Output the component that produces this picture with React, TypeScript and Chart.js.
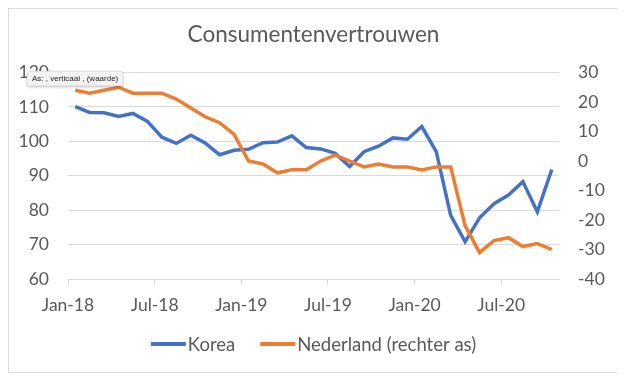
import React, { useEffect, useRef } from "react";
import { Chart, registerables } from "chart.js";

Chart.register(...registerables);

const categories = [
  "Jan-18", "Feb-18", "Mar-18", "Apr-18", "May-18", "Jun-18", "Jul-18", "Aug-18", "Sep-18", "Oct-18", "Nov-18", "Dec-18",
  "Jan-19", "Feb-19", "Mar-19", "Apr-19", "May-19", "Jun-19", "Jul-19", "Aug-19", "Sep-19", "Oct-19", "Nov-19", "Dec-19",
  "Jan-20", "Feb-20", "Mar-20", "Apr-20", "May-20", "Jun-20", "Jul-20", "Aug-20", "Sep-20", "Oct-20",
];

const korea = [
  110.1, 108.4, 108.3, 107.2, 108.1, 105.8, 101.2, 99.4, 101.8, 99.5, 96.1, 97.4,
  97.7, 99.6, 99.8, 101.6, 98.2, 97.8, 96.5, 92.7, 97.0, 98.6, 101.0, 100.6,
  104.3, 97.0, 78.5, 70.8, 77.8, 81.9, 84.4, 88.3, 79.5, 91.8,
];

const nederland = [
  24, 23, 24, 25, 23, 23, 23, 21, 18, 15, 13, 9,
  0, -1, -4, -3, -3, 0, 2, 0, -2, -1, -2, -2,
  -3, -2, -2, -22, -31, -27, -26, -29, -28, -30,
];

const xTickLabels = ["Jan-18", "Jul-18", "Jan-19", "Jul-19", "Jan-20", "Jul-20"];

const seriesNames = ["Korea", "Nederland (rechter as)"];
const seriesColors = ["#4472C4", "#ED7D31"];
const titleText = "Consumentenvertrouwen";

const FONT = "Lato, 'Open Sans', sans-serif";
const TEXT = "#595959";
const GRID = "#d9d9d9";

const titleLegendPlugin = {
  id: "titleLegend",
  afterDraw(chart: any) {
    const ctx = chart.ctx;
    const w = chart.width;
    ctx.save();
    // title
    ctx.fillStyle = TEXT;
    ctx.font = `22.5px ${FONT}`;
    ctx.textAlign = "center";
    ctx.textBaseline = "middle";
    ctx.fillText(titleText, w / 2, 26);
    // legend
    ctx.font = `18.5px ${FONT}`;
    const lineW = 35;
    const gap = 2;
    const spacing = 25;
    const widths = seriesNames.map((n) => ctx.measureText(n).width);
    const total = widths.reduce((a, b) => a + b, 0) + seriesNames.length * (lineW + gap) + spacing * (seriesNames.length - 1);
    let x = w / 2 - total / 2;
    const y = 335;
    ctx.textAlign = "left";
    seriesNames.forEach((n, i) => {
      ctx.strokeStyle = seriesColors[i];
      ctx.lineWidth = 4;
      ctx.lineCap = "butt";
      ctx.beginPath();
      ctx.moveTo(x, y);
      ctx.lineTo(x + lineW, y);
      ctx.stroke();
      x += lineW + gap;
      ctx.fillStyle = TEXT;
      ctx.fillText(n, x, y + 1);
      x += widths[i] + spacing;
    });
    ctx.restore();
  },
};

export default function App() {
  const ref = useRef<HTMLCanvasElement | null>(null);

  useEffect(() => {
    if (!ref.current) return;
    const chart = new Chart(ref.current, {
      type: "line",
      data: {
        datasets: [
          {
            label: seriesNames[0],
            data: korea.map((v, i) => ({ x: i, y: v })),
            borderColor: seriesColors[0],
            backgroundColor: seriesColors[0],
            borderWidth: 3.5,
            pointRadius: 0,
            tension: 0,
            yAxisID: "y",
            order: 1,
          },
          {
            label: seriesNames[1],
            data: nederland.map((v, i) => ({ x: i, y: v })),
            borderColor: seriesColors[1],
            backgroundColor: seriesColors[1],
            borderWidth: 3.5,
            pointRadius: 0,
            tension: 0,
            yAxisID: "y1",
            order: 0,
          },
        ],
      },
      plugins: [titleLegendPlugin],
      options: {
        animation: false,
        responsive: false,
        layout: { padding: { left: 0, right: 0, top: 63.5, bottom: 53 } },
        plugins: {
          tooltip: { enabled: false },
          title: { display: false },
          legend: { display: false },
        },
        scales: {
          x: {
            type: "linear",
            min: -0.5,
            max: categories.length - 0.5,
            afterBuildTicks: (scale: any) => {
              scale.ticks = xTickLabels.map((l) => ({ value: categories.indexOf(l) - 0.5 }));
            },
            afterFit: (s: any) => {
              s.height = 40;
            },
            ticks: {
              color: TEXT,
              font: { family: FONT, size: 17.5 },
              padding: 10,
              maxRotation: 0,
              autoSkip: false,
              callback: (v: any) => categories[Math.round(Number(v) + 0.5)] ?? "",
            },
            grid: {
              drawOnChartArea: false,
              drawTicks: true,
              tickLength: 6,
              tickColor: GRID,
              color: GRID,
            },
            border: { display: true, color: GRID },
          },
          y: {
            position: "left",
            min: 60,
            max: 120,
            afterFit: (s: any) => {
              s.width = 59;
            },
            ticks: {
              stepSize: 10,
              color: TEXT,
              font: { family: FONT, size: 17.5 },
              padding: 19,
            },
            grid: { color: GRID, drawTicks: false, lineWidth: 1 },
            border: { display: false },
          },
          y1: {
            position: "right",
            min: -40,
            max: 30,
            afterFit: (s: any) => {
              s.width = 59;
            },
            ticks: {
              stepSize: 10,
              color: TEXT,
              font: { family: FONT, size: 17.5 },
              padding: 19,
            },
            grid: { display: false, drawOnChartArea: false, drawTicks: false },
            border: { display: false },
          },
        },
      },
    });
    return () => chart.destroy();
  }, []);

  return (
    <div
      style={{
        position: "relative",
        width: 609,
        height: 363,
        border: "1px solid #d9d9d9",
        background: "#fff",
      }}
    >
      <canvas ref={ref} width={609} height={363} style={{ display: "block" }} />
      <div
        style={{
          position: "absolute",
          left: 18,
          top: 62,
          height: 13,
          lineHeight: "13px",
          padding: "0 4px",
          fontFamily: "'Liberation Sans', Arial, sans-serif",
          fontSize: 8,
          color: "#222",
          background: "#f3f3f3",
          border: "1px solid #e2e2e2",
          borderRadius: 2,
          boxShadow: "0 1px 3px rgba(0,0,0,0.25)",
          whiteSpace: "nowrap",
        }}
      >
        As: , verticaal , (waarde)
      </div>
    </div>
  );
}
